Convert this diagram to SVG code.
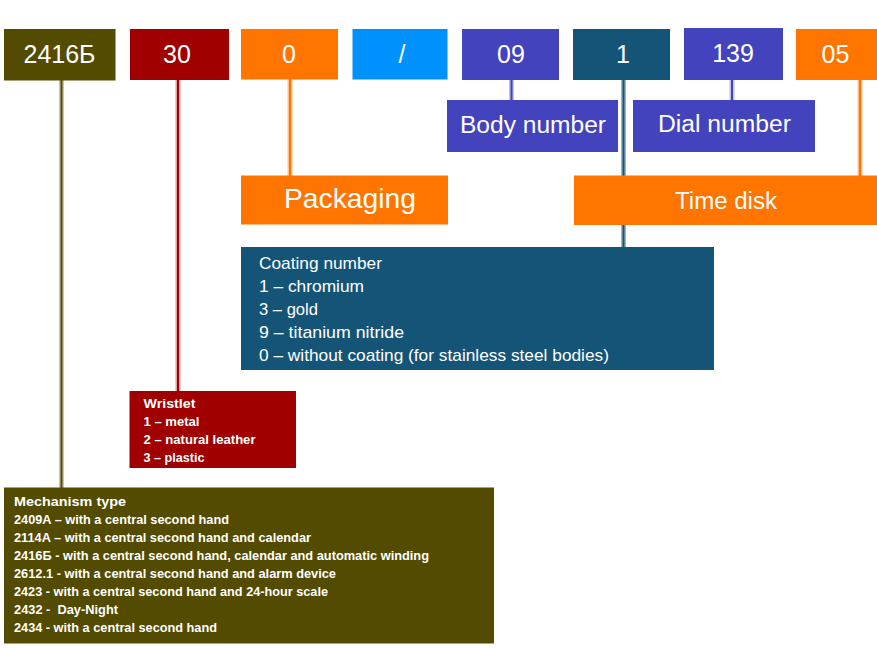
<svg xmlns="http://www.w3.org/2000/svg" width="877" height="649" viewBox="0 0 877 649">
<style>
.t{font-family:"Liberation Sans",Arial,sans-serif;fill:#fff}
.big{font-size:25px;text-anchor:middle}
.lbl{font-size:23px}
.coat{font-size:17px}
.sm{font-size:12.5px;font-weight:bold}
.olive{fill:#534B00}.red{fill:#A00000}.orange{fill:#FF7500}.sky{fill:#0091FF}.indigo{fill:#4343BE}.teal{fill:#145577}
.halo{stroke-width:5;fill:none}
.core{stroke-width:2;fill:none}
</style>
<rect width="877" height="649" fill="#fff"/>
<g id="connectors">
<line class="halo" x1="61.5" y1="80" x2="61.5" y2="490" stroke="#CAC6B2"/>
<line class="core" x1="61.5" y1="80" x2="61.5" y2="490" stroke="#534B00"/>
<line class="halo" x1="178" y1="80" x2="178" y2="392" stroke="#E0A0A0"/>
<line class="core" x1="178" y1="80" x2="178" y2="392" stroke="#A00000"/>
<line class="halo" x1="290" y1="79" x2="290" y2="177" stroke="#FFC090"/>
<line class="core" x1="290" y1="79" x2="290" y2="177" stroke="#FF7500"/>
<line class="halo" x1="511.5" y1="79" x2="511.5" y2="101" stroke="#C0C0EA"/>
<line class="core" x1="511.5" y1="79" x2="511.5" y2="101" stroke="#4343BE"/>
<line class="halo" x1="623.5" y1="79" x2="623.5" y2="248" stroke="#9DB6C4"/>
<line class="core" x1="623.5" y1="79" x2="623.5" y2="248" stroke="#145577"/>
<line class="halo" x1="732" y1="79" x2="732" y2="101" stroke="#C0C0EA"/>
<line class="core" x1="732" y1="79" x2="732" y2="101" stroke="#4343BE"/>
<line class="halo" x1="860" y1="79" x2="860" y2="177" stroke="#FFC090"/>
<line class="core" x1="860" y1="79" x2="860" y2="177" stroke="#FF7500"/>
</g>
<g id="n2416"><rect class="olive" x="4" y="29" width="111.5" height="51.5"/><text class="t big" x="59.5" y="63">2416Б</text></g>
<g id="n30"><rect class="red" x="130" y="29" width="99" height="51"/><text class="t big" x="177" y="63">30</text></g>
<g id="n0"><rect class="orange" x="241" y="29" width="97" height="50.5"/><text class="t big" x="289" y="63">0</text></g>
<g id="nslash"><rect class="sky" x="352.5" y="29" width="95" height="50.5"/><text class="t big" x="402" y="63">/</text></g>
<g id="n09"><rect class="indigo" x="462" y="29" width="97" height="51"/><text class="t big" x="511" y="63">09</text></g>
<g id="n1"><rect class="teal" x="573" y="29" width="97" height="51"/><text class="t big" x="623" y="63">1</text></g>
<g id="n139"><rect class="indigo" x="684" y="28" width="99" height="52"/><text class="t big" x="733" y="62">139</text></g>
<g id="n05"><rect class="orange" x="796" y="29" width="81" height="51"/><text class="t big" x="835.5" y="63">05</text></g>
<g id="body"><rect class="indigo" x="447" y="100" width="171" height="52"/><text class="t lbl" x="460" y="133" textLength="146" lengthAdjust="spacingAndGlyphs">Body number</text></g>
<g id="dial"><rect class="indigo" x="633" y="100" width="182" height="52"/><text class="t lbl" x="658" y="132" textLength="133" lengthAdjust="spacingAndGlyphs">Dial number</text></g>
<g id="packaging"><rect class="orange" x="241" y="175.5" width="207" height="49"/><text class="t" style="font-size:28px" x="284" y="208" textLength="132" lengthAdjust="spacingAndGlyphs">Packaging</text></g>
<g id="timedisk"><rect class="orange" x="574" y="175.5" width="303" height="49.5"/><text class="t lbl" x="675" y="208.5" textLength="102" lengthAdjust="spacingAndGlyphs">Time disk</text></g>
<g id="coating"><rect class="teal" x="241" y="247" width="473" height="123"/>
<text class="t coat" x="259" y="269" textLength="123" lengthAdjust="spacingAndGlyphs">Coating number</text>
<text class="t coat" x="259" y="292" textLength="105" lengthAdjust="spacingAndGlyphs">1 – chromium</text>
<text class="t coat" x="259" y="315" textLength="59" lengthAdjust="spacingAndGlyphs">3 – gold</text>
<text class="t coat" x="259" y="338" textLength="145" lengthAdjust="spacingAndGlyphs">9 – titanium nitride</text>
<text class="t coat" x="259" y="361" textLength="350" lengthAdjust="spacingAndGlyphs">0 – without coating (for stainless steel bodies)</text>
</g>
<g id="wristlet"><rect class="red" x="129.5" y="391" width="166.5" height="77"/>
<text class="t sm" x="143.5" y="407.5" textLength="52" lengthAdjust="spacingAndGlyphs">Wristlet</text>
<text class="t sm" x="143.5" y="425.5" textLength="56" lengthAdjust="spacingAndGlyphs">1 – metal</text>
<text class="t sm" x="143.5" y="443.5" textLength="112" lengthAdjust="spacingAndGlyphs">2 – natural leather</text>
<text class="t sm" x="143.5" y="461.5" textLength="61" lengthAdjust="spacingAndGlyphs">3 – plastic</text>
</g>
<g id="mechanism"><rect class="olive" x="4" y="487.5" width="490" height="156"/>
<text class="t sm" x="14" y="506" textLength="112" lengthAdjust="spacingAndGlyphs">Mechanism type</text>
<text class="t sm" x="14" y="524" textLength="215" lengthAdjust="spacingAndGlyphs">2409A – with a central second hand</text>
<text class="t sm" x="14" y="542" textLength="297" lengthAdjust="spacingAndGlyphs">2114A – with a central second hand and calendar</text>
<text class="t sm" x="14" y="560" textLength="415" lengthAdjust="spacingAndGlyphs">2416Б - with a central second hand, calendar and automatic winding</text>
<text class="t sm" x="14" y="578" textLength="322" lengthAdjust="spacingAndGlyphs">2612.1 - with a central second hand and alarm device</text>
<text class="t sm" x="14" y="596" textLength="314" lengthAdjust="spacingAndGlyphs">2423 - with a central second hand and 24-hour scale</text>
<text class="t sm" x="14" y="614" textLength="104" lengthAdjust="spacingAndGlyphs" xml:space="preserve">2432 -  Day-Night</text>
<text class="t sm" x="14" y="632" textLength="203" lengthAdjust="spacingAndGlyphs">2434 - with a central second hand</text>
</g>
</svg>
